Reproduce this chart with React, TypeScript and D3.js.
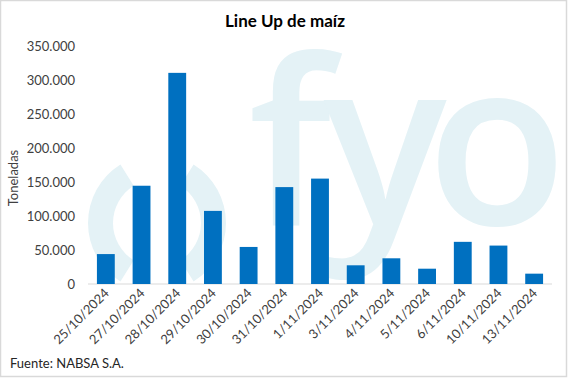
import React from "react";
import * as d3 from "d3";

const categories = ["25/10/2024","27/10/2024","28/10/2024","29/10/2024","30/10/2024","31/10/2024","1/11/2024","3/11/2024","4/11/2024","5/11/2024","6/11/2024","10/11/2024","13/11/2024"];
const values = [44000,144500,310500,107500,54500,142500,155000,27500,37800,22500,62000,56500,15200];
const yTicks = [0,50000,100000,150000,200000,250000,300000,350000];
const title = "Line Up de maíz";
const yTitle = "Toneladas";
const source = "Fuente: NABSA S.A.";

const W = 568, H = 379;
const fmt = (v: number) => d3.format(",")(v).replace(/,/g, ".");

export default function App() {
  const x = d3.scaleBand<string>().domain(categories).range([88, 552]).paddingInner(0.5).paddingOuter(0.25);
  const y = d3.scaleLinear().domain([0, 350000]).range([284, 46]);
  const arc = d3.arc<any>();
  const wm = "#e4f2f6";
  const deg = Math.PI / 180;
  const leftArc = arc({ innerRadius: 44, outerRadius: 69, startAngle: -148 * deg, endAngle: -32 * deg } as any) || "";
  const rightArc = arc({ innerRadius: 44, outerRadius: 69, startAngle: 32 * deg, endAngle: 148 * deg } as any) || "";
  return (
    <svg width={W} height={H} style={{ position: "absolute", left: 0, top: 0, background: "#fff" }}>
      <rect x={0.5} y={0.5} width={566} height={376} fill="#fff" stroke="#d9d9d9" strokeWidth={1.5} />
      <g fill={wm}>
        <g transform="translate(157,223)">
          <path d={leftArc} />
          <path d={rightArc} />
        </g>
        <g fontFamily="'Open Sans', sans-serif" fontSize={230} fontWeight={600} textAnchor="middle">
          <text x={290} y={225}>f</text>
          <text x={385} y={225}>y</text>
          <text x={497} y={225}>o</text>
        </g>
      </g>
      <text x={285} y={27} textAnchor="middle" fontFamily="Lato, sans-serif" fontWeight={700} fontSize={17} fill="#000">{title}</text>
      <g fontFamily="Lato, sans-serif" fontSize={13} fill="#404040">
        {yTicks.map(t => (
          <text key={t} x={75} y={y(t)} dy="0.35em" textAnchor="end">{fmt(t)}</text>
        ))}
      </g>
      <text transform={`translate(18,${178}) rotate(-90)`} textAnchor="middle" fontFamily="Lato, sans-serif" fontSize={13} fill="#404040">{yTitle}</text>
      <line x1={88} x2={552} y1={y(0)} y2={y(0)} stroke="#d9d9d9" strokeWidth={1.2} />
      {categories.map((c, i) => (
        <rect key={c} x={x(c)!} width={x.bandwidth()} y={y(values[i])} height={y(0) - y(values[i])} fill="#0070c0" />
      ))}
      <g fontFamily="Lato, sans-serif" fontSize={13} fill="#404040">
        {categories.map(c => {
          const cx = x(c)! + x.bandwidth() / 2 + 4;
          return (
            <text key={c} transform={`translate(${cx},${294}) rotate(-45)`} textAnchor="end">{c}</text>
          );
        })}
      </g>
      <text x={10} y={368} fontFamily="Lato, sans-serif" fontSize={13} fill="#262626">{source}</text>
    </svg>
  );
}
